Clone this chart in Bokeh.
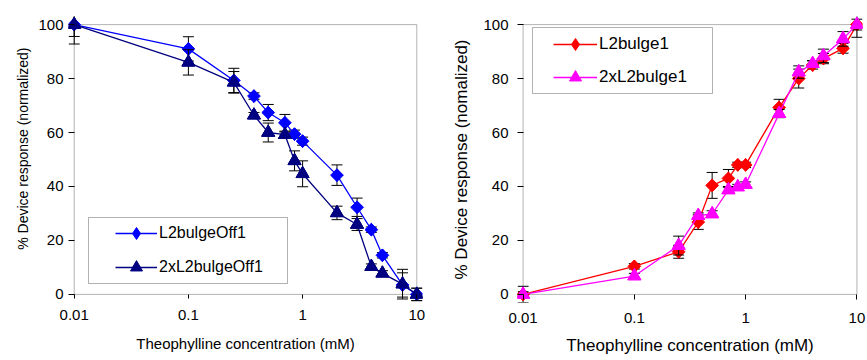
import math
from bokeh.plotting import figure
from bokeh.models import (Range1d, FixedTicker, CustomJSTickFormatter, Legend,
                          LegendItem, BoxAnnotation, Title)
from bokeh.layouts import row
from bokeh.embed import file_html
from bokeh.resources import INLINE

# ---------------- data ----------------
conc = [0.01, 0.1, 0.25, 0.375, 0.5, 0.7, 0.85, 1, 2, 3, 4, 5, 7.5, 10]
x_ticks = [0.01, 0.1, 1, 10]
y_ticks = [0, 20, 40, 60, 80, 100]

off1_name = "L2bulgeOff1"
off1 = [100, 91, 79.3, 73.5, 67.4, 63.6, 59.4, 56.8, 44.2, 32.3, 24.0, 14.5, 3.5, 0]
off1_err = [4.4, 4.5, 4.5, 1.2, 3.0, 3.1, 1.5, 1.5, 3.8, 3.4, 1.0, 1.0, 4.5, 2.3]
off2_name = "2xL2bulgeOff1"
off2 = [100, 86, 78.6, 66.4, 60.0, 59.2, 49.5, 44.7, 30.2, 25.9, 10.3, 7.8, 3.8, 0]
off2_err = [7.2, 4.7, 4.0, 1.0, 3.5, 1.0, 3.7, 4.8, 2.5, 2.2, 1.0, 1.0, 5.5, 2.3]

on1_name = "L2bulge1"
on1 = [0, 10.4, 15.8, 26.8, 40.4, 43.0, 48.0, 48.0, 69.3, 80.0, 85.0, 87.4, 91.2, 100]
on1_err = [3.0, 1.0, 2.4, 2.7, 4.8, 3.3, 1.0, 1.0, 3.0, 3.5, 1.5, 1.9, 1.8, 4.7]
on2_name = "2xL2bulge1"
on2 = [0, 6.8, 18.1, 29.2, 29.8, 38.7, 39.8, 40.7, 67.0, 82.4, 85.5, 88.4, 94.7, 100]
on2_err = [1.0, 1.0, 3.5, 1.0, 1.2, 1.3, 1.0, 1.0, 1.5, 2.3, 1.2, 2.5, 2.7, 2.0]

x_title = "Theophylline concentration (mM)"
y_title_left = "% Device response (normalized)"
y_title_right = "% Device response (nomalized)"

FONT = "Liberation Sans"


def make_panel(width, bl, br, bt, bb, tick_font,
               x_tin, x_tout, x_standoff, y_tin, y_tout, y_standoff):
    p = figure(width=width, height=360, x_axis_type="log",
               x_range=Range1d(10 ** -2.05, 10 ** 1.05),
               y_range=Range1d(-3, 103),
               output_backend="svg", toolbar_location=None,
               min_border_left=bl, min_border_right=br,
               min_border_top=bt, min_border_bottom=bb)
    p.grid.visible = False
    p.outline_line_color = None
    p.background_fill_color = "white"
    p.border_fill_color = "white"

    p.xaxis.ticker = FixedTicker(ticks=x_ticks, minor_ticks=[])
    p.yaxis.ticker = FixedTicker(ticks=y_ticks, minor_ticks=[])
    p.xaxis.formatter = CustomJSTickFormatter(code="return tick.toString();")
    for ax in (p.xaxis, p.yaxis):
        ax.axis_line_color = None
        ax.major_tick_line_color = "black"
        ax.minor_tick_line_color = None
        ax.major_label_text_font = FONT
        ax.major_label_text_font_size = tick_font
        ax.major_label_text_color = "black"
        ax.axis_label_text_font = FONT
        ax.axis_label_text_font_style = "normal"
        ax.axis_label_text_color = "black"
    p.xaxis.major_tick_in = x_tin
    p.xaxis.major_tick_out = x_tout
    p.xaxis.major_label_standoff = x_standoff
    p.yaxis.major_tick_in = y_tin
    p.yaxis.major_tick_out = y_tout
    p.yaxis.major_label_standoff = y_standoff

    # plot-area box (0.01..10 x 0..100)
    p.add_layout(BoxAnnotation(left=0.01, right=10, bottom=0, top=100,
                               fill_alpha=0, line_color="black",
                               line_width=1, level="underlay"))
    return p


def add_series(p, y, err, color, marker, size, angle, legend_marker):
    lower = [v - e for v, e in zip(y, err)]
    upper = [v + e for v, e in zip(y, err)]
    p.segment(x0=conc, y0=lower, x1=conc, y1=upper, line_color="black",
              line_width=1)
    p.scatter(conc, lower, marker="dash", size=11, line_color="black",
              line_width=1)
    p.scatter(conc, upper, marker="dash", size=11, line_color="black",
              line_width=1)
    ln = p.line(conc, y, line_color=color, line_width=1.3)
    lg = p.scatter(conc, y, marker=legend_marker, size=size,
                   fill_color=color, line_color=color)
    p.scatter(conc, y, marker=marker, size=size * 0.72 if angle else size,
              angle=angle, fill_color=color, line_color=color)
    return [ln, lg]


def legend_frame(p, left, right, top, bottom):
    p.add_layout(BoxAnnotation(left=left, right=right, top=top, bottom=bottom,
                               left_units="screen", right_units="screen",
                               top_units="screen", bottom_units="screen",
                               fill_color="white", fill_alpha=1,
                               line_color="black", line_width=1))


def add_legend(p, items, loc, font, spacing, glyph_width):
    lg = Legend(items=items, location=loc, padding=0, margin=0,
                spacing=spacing, glyph_height=30, glyph_width=glyph_width,
                label_height=30, label_standoff=2,
                label_text_font=FONT, label_text_font_size=font,
                label_text_color="black",
                background_fill_alpha=0, border_line_alpha=0)
    p.add_layout(lg)


# ---------------- left panel ----------------
pl = make_panel(440, 68, 18, 9, 58, "15px", 8, -4, 7, 6, 0, 5)
pl.xaxis.axis_label = x_title
pl.xaxis.axis_label_text_font_size = "15px"
pl.xaxis.axis_label_standoff = 12
pl.add_layout(Title(text=y_title_left, align="right", offset=31,
                    text_font=FONT, text_font_size="14px",
                    text_font_style="normal", text_color="black"), "left")
legend_frame(pl, 20, 219, 85, 19)
l1 = add_series(pl, off1, off1_err, "#0000FF", "square", 12.5, math.pi / 4, "diamond")
l2 = add_series(pl, off2, off2_err, "#000080", "triangle", 13, 0, "triangle")
add_legend(pl, [LegendItem(label=off1_name, renderers=l1),
                LegendItem(label=off2_name, renderers=l2)],
           (47, 20), "16px", 4, 42)

# ---------------- right panel ----------------
pr = make_panel(427, 77, 5, 16, 56, "15px", 8, -3, 10, 6, 0, 9)
pr.xaxis.axis_label = x_title
pr.xaxis.axis_label_text_font_size = "17px"
pr.xaxis.axis_label_standoff = 10
pr.yaxis.axis_label = y_title_right
pr.yaxis.axis_label_text_font_size = "17px"
pr.yaxis.axis_label_standoff = 9
legend_frame(pr, 15, 195, 275, 209)
r1 = add_series(pr, on1, on1_err, "#FF0000", "square", 12.5, math.pi / 4, "diamond")
r2 = add_series(pr, on2, on2_err, "#FF00FF", "triangle", 13, 0, "triangle")
add_legend(pr, [LegendItem(label=on1_name, renderers=r1),
                LegendItem(label=on2_name, renderers=r2)],
           (36, 210), "17px", 3, 44)

layout = row(pl, pr)
open("out.html", "w").write(file_html(layout, INLINE))
